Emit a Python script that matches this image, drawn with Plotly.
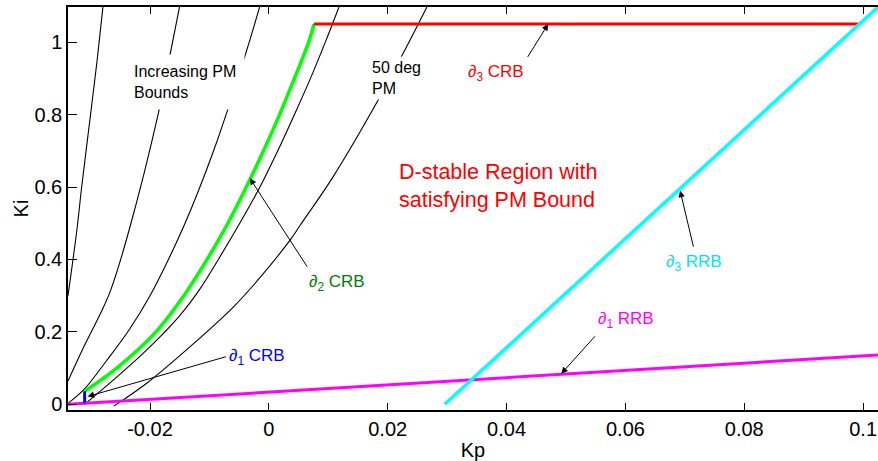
import plotly.graph_objects as go

# Phase-margin boundary curves (black), from lowest to highest Kp at the top edge
kp_pm1 = [-0.0338, -0.0323, -0.0315, -0.0300, -0.0289, -0.0279]
ki_pm1 = [0.300, 0.482, 0.600, 0.801, 0.950, 1.100]

kp_pm2 = [-0.0338, -0.0311, -0.0283, -0.0266, -0.0235, -0.0186, -0.0167, -0.0150]
ki_pm2 = [0.064, 0.160, 0.252, 0.316, 0.482, 0.803, 0.959, 1.100]

kp_pm3 = [-0.0337, -0.0311, -0.0272, -0.0235, -0.0200, -0.0169, -0.0141, -0.0116,
          -0.0093, -0.0072, -0.0052, -0.0033, -0.0015]
ki_pm3 = [0.004, 0.041, 0.123, 0.206, 0.30, 0.40, 0.50, 0.60, 0.70, 0.80, 0.90, 1.00, 1.10]

kp_pm4 = [-0.0310, -0.0261, -0.0205, -0.0151, -0.0117, -0.0085, -0.0049, -0.0015,
          0.0015, 0.0043, 0.0070, 0.0095, 0.0118]
ki_pm4 = [0.000, 0.068, 0.151, 0.243, 0.316, 0.40, 0.50, 0.60, 0.70, 0.80, 0.90, 1.00, 1.097]

# 50 deg phase-margin bound
kp_pm50 = [-0.0261, -0.0205, -0.0132, -0.0059, -0.0018, 0.0036, 0.0053, 0.0108, 0.0187, 0.0226, 0.0266]
ki_pm50 = [-0.005, 0.059, 0.160, 0.270, 0.344, 0.454, 0.495, 0.628, 0.849, 0.969, 1.097]

# Complex root boundaries
kp_crb1 = [-0.0310, -0.0310]
ki_crb1 = [0.003, 0.036]

kp_crb2 = [-0.0310, -0.0256, -0.0190, -0.0143, -0.0104, -0.0069, -0.0038, -0.0009,
           0.0018, 0.0043, 0.0067, 0.0076]
ki_crb2 = [0.036, 0.10, 0.20, 0.30, 0.40, 0.50, 0.60, 0.70, 0.80, 0.90, 1.00, 1.05]

kp_crb3 = [0.0076, 0.0992]
ki_crb3 = [1.05, 1.05]

# Real root boundaries
kp_rrb1 = [-0.0338, 0.1025]
ki_rrb1 = [0.0, 0.136]

kp_rrb3 = [0.0296, 0.1031]
ki_rrb3 = [0.0, 1.106]

x_ticks = [-0.02, 0, 0.02, 0.04, 0.06, 0.08, 0.1]
x_tick_text = ["-0.02", "0", "0.02", "0.04", "0.06", "0.08", "0.1"]
y_ticks = [0, 0.2, 0.4, 0.6, 0.8, 1.0]
y_tick_text = ["0", "0.2", "0.4", "0.6", "0.8", "1"]

FONT = "Arial, Liberation Sans, sans-serif"

fig = go.Figure()

for kp, ki in [(kp_pm1, ki_pm1), (kp_pm2, ki_pm2), (kp_pm3, ki_pm3),
               (kp_pm4, ki_pm4), (kp_pm50, ki_pm50)]:
    fig.add_trace(go.Scatter(x=kp, y=ki, mode="lines",
                             line=dict(color="black", width=1.1, shape="spline", smoothing=1),
                             hoverinfo="skip"))

fig.add_trace(go.Scatter(x=kp_rrb1, y=ki_rrb1, mode="lines",
                         line=dict(color="#ff00ff", width=3)))
fig.add_trace(go.Scatter(x=kp_crb2, y=ki_crb2, mode="lines",
                         line=dict(color="#00ff00", width=3.5, shape="spline", smoothing=1)))
fig.add_trace(go.Scatter(x=kp_crb1, y=ki_crb1, mode="lines",
                         line=dict(color="#0000ff", width=3)))
fig.add_trace(go.Scatter(x=kp_crb3, y=ki_crb3, mode="lines",
                         line=dict(color="#ff0000", width=3)))
fig.add_trace(go.Scatter(x=kp_rrb3, y=ki_rrb3, mode="lines",
                         line=dict(color="#00ffff", width=3.5)))


def label(x, y, text, color, size=17, bg=None, pad=0):
    fig.add_annotation(x=x, y=y, xref="x", yref="y", text=text, showarrow=False,
                       xanchor="left", yanchor="middle", align="left",
                       font=dict(family=FONT, size=size, color=color),
                       bgcolor=bg, borderpad=pad)


def arrow(x_head, y_head, x_tail, y_tail):
    fig.add_annotation(x=x_head, y=y_head, ax=x_tail, ay=y_tail,
                       xref="x", yref="y", axref="x", ayref="y",
                       text="", showarrow=True, arrowhead=2, arrowsize=1.3,
                       arrowwidth=1, arrowcolor="black", standoff=0, startstandoff=0)


label(-0.0242, 0.890, "Increasing PM<br>Bounds", "black", size=16, bg="white", pad=8)
label(0.0168, 0.900, "50 deg<br>PM", "black", size=16, bg="white", pad=2)
label(0.0218, 0.604, "D-stable Region with<br>satisfying PM Bound", "#ff0000", size=21.5)

label(0.0333, 0.915, "<i>∂</i><sub>3</sub> CRB", "#ff0000")
label(0.0066, 0.336, "<i>∂</i><sub>2</sub> CRB", "#008000")
label(-0.0068, 0.130, "<i>∂</i><sub>1</sub> CRB", "#0000ff")
label(0.0667, 0.391, "<i>∂</i><sub>3</sub> RRB", "#00e5e5")
label(0.0552, 0.232, "<i>∂</i><sub>1</sub> RRB", "#ff00ff")

arrow(0.0470, 1.050, 0.0434, 0.955)
arrow(-0.0032, 0.624, 0.0066, 0.376)
arrow(-0.0305, 0.0215, -0.0070, 0.1325)
arrow(0.0692, 0.590, 0.0715, 0.431)
arrow(0.0492, 0.0845, 0.0551, 0.192)

fig.update_layout(
    width=878, height=461,
    margin=dict(l=68, r=0, t=7, b=51),
    paper_bgcolor="white", plot_bgcolor="white",
    showlegend=False,
    font=dict(family=FONT, size=20, color="black"),
)
fig.update_xaxes(
    range=[-0.0338, 0.1025], tickvals=x_ticks, ticktext=x_tick_text,
    ticks="inside", ticklen=7, tickwidth=1, tickcolor="black",
    showline=True, linecolor="black", linewidth=1.5, mirror="allticks",
    showgrid=False, zeroline=False,
    title=dict(text="Kp", standoff=4, font=dict(size=20)),
    tickfont=dict(size=20),
)
fig.update_yaxes(
    range=[-0.0157, 1.097], tickvals=y_ticks, ticktext=y_tick_text,
    ticks="inside", ticklen=9, tickwidth=1, tickcolor="black",
    showline=True, linecolor="black", linewidth=1.5, mirror=False,
    showgrid=False, zeroline=False,
    title=dict(text="Ki", standoff=0, font=dict(size=20)),
    tickfont=dict(size=20),
)

fig.write_html("out.html")
